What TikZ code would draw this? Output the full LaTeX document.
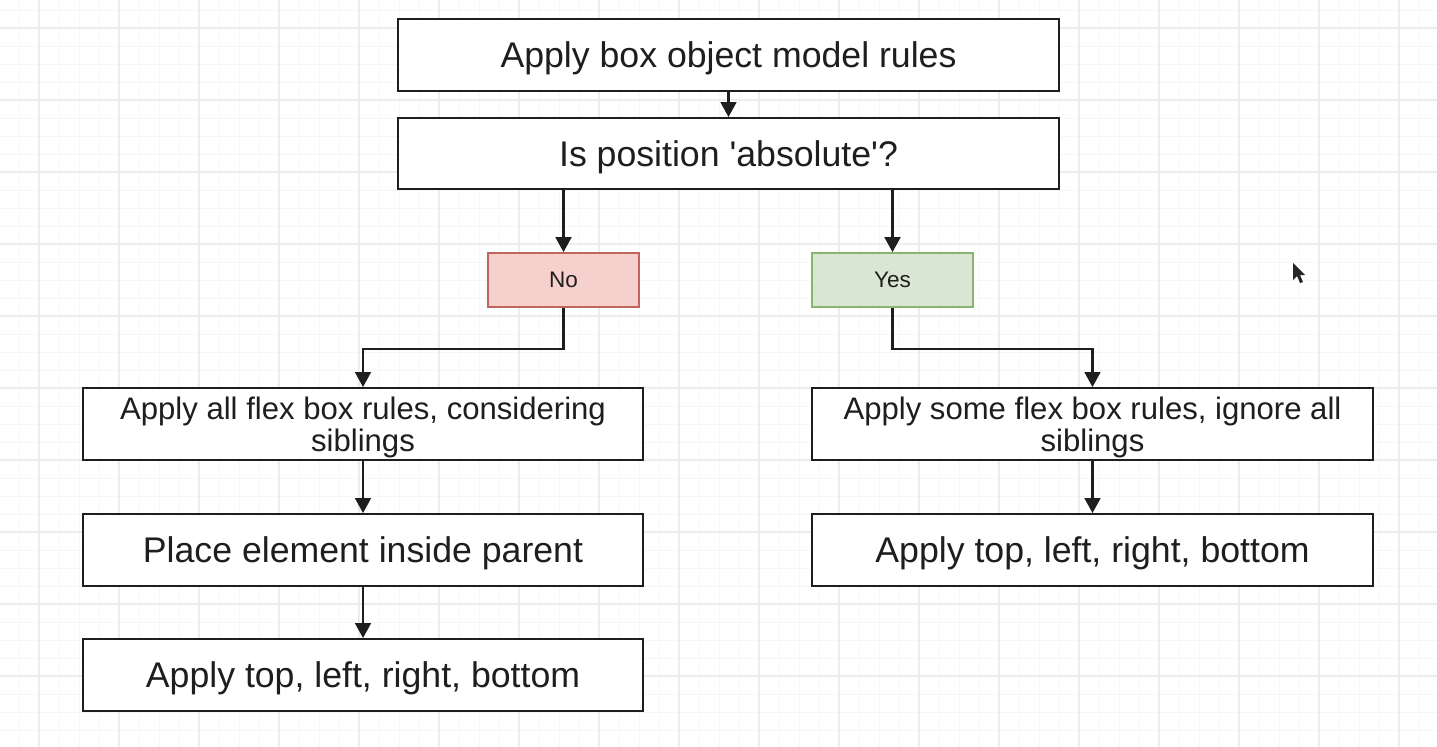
\documentclass[tikz,border=0pt]{standalone}
\usepackage{fontspec}
\setmainfont{Liberation Sans}
\usetikzlibrary{arrows.meta}
\definecolor{minorgrid}{HTML}{F6F6F6}
\definecolor{majorgrid}{HTML}{EDEDED}
\definecolor{ink}{HTML}{1E1E1E}
\definecolor{nofill}{HTML}{F6D0CC}
\definecolor{nodraw}{HTML}{C0645E}
\definecolor{yesfill}{HTML}{D8E6D3}
\definecolor{yesdraw}{HTML}{8AB56E}
\tikzset{
  box/.style={draw=ink, line width=1.1pt, fill=white, text=ink, align=center,
    inner sep=0pt, text depth=0pt, font=\fontsize{20.3}{24}\selectfont},
  wrapbox/.style={box, font=\fontsize{17.7}{18.2}\selectfont},
  nobox/.style={draw=nodraw, fill=nofill, line width=1pt, text=ink, inner sep=0pt,
    font=\fontsize{12.8}{15}\selectfont},
  yesbox/.style={draw=yesdraw, fill=yesfill, line width=1pt, text=ink, inner sep=0pt,
    font=\fontsize{12.8}{15}\selectfont},
  arr/.style={draw=ink, line width=1.2pt, -{Triangle[length=8.5pt,width=9pt]}},
  minorline/.style={draw=minorgrid, line width=0.5pt},
  majorline/.style={draw=majorgrid, line width=0.7pt},
}
\begin{document}
\begin{tikzpicture}[x=0.02cm, y=-0.02cm]
  \useasboundingbox (0,0) rectangle (1437,747);
  \fill[white] (0,0) rectangle (1437,747);
  % background grid
  \foreach \i in {0,...,70} \draw[minorline] ({19+20*\i},0) -- ({19+20*\i},747);
  \foreach \j in {0,...,40} \draw[minorline] (0,{10+18*\j}) -- (1437,{10+18*\j});
  \foreach \i in {0,...,17} \draw[majorline] ({39+80*\i},0) -- ({39+80*\i},747);
  \foreach \j in {0,...,9} \draw[majorline] (0,{28+72*\j}) -- (1437,{28+72*\j});

  % flow boxes
  \node[box, minimum width=13.22cm, minimum height=1.44cm] (apply) at (728.5,55) {Apply box object model rules};
  \node[box, minimum width=13.22cm, minimum height=1.42cm] (pos) at (728.5,153.5) {Is position \textquotesingle absolute\textquotesingle?};
  \node[nobox, minimum width=3.02cm, minimum height=1.08cm] (no) at (563.5,280) {No};
  \node[yesbox, minimum width=3.22cm, minimum height=1.08cm] (yes) at (892.5,280) {Yes};

  \node[wrapbox, minimum width=11.2cm, minimum height=1.44cm] (allflex) at (363,424) {Apply all flex box rules, considering\\siblings};
  \node[box, minimum width=11.2cm, minimum height=1.44cm] (place) at (363,550) {Place element inside parent};
  \node[box, minimum width=11.2cm, minimum height=1.44cm] (tlrbL) at (363,675) {Apply top, left, right, bottom};

  \node[wrapbox, minimum width=11.22cm, minimum height=1.44cm] (someflex) at (1092.5,424) {Apply some flex box rules, ignore all\\siblings};
  \node[box, minimum width=11.22cm, minimum height=1.44cm] (tlrbR) at (1092.5,550) {Apply top, left, right, bottom};

  % connectors
  \draw[arr] (apply.south) -- (pos.north);
  \draw[arr] (pos.south -| no.north) -- (no.north);
  \draw[arr] (pos.south -| yes.north) -- (yes.north);
  \draw[arr] (no.south) -- ++(0,41) -| (allflex.north);
  \draw[arr] (yes.south) -- ++(0,41) -| (someflex.north);
  \draw[arr] (allflex.south) -- (place.north);
  \draw[arr] (place.south) -- (tlrbL.north);
  \draw[arr] (someflex.south) -- (tlrbR.north);

  % mouse pointer
  \fill[black!85] (1293,263) -- (1293,280) -- (1297,276) -- (1300,283) -- (1303,282) -- (1300,275) -- (1305,275) -- cycle;
\end{tikzpicture}
\end{document}
